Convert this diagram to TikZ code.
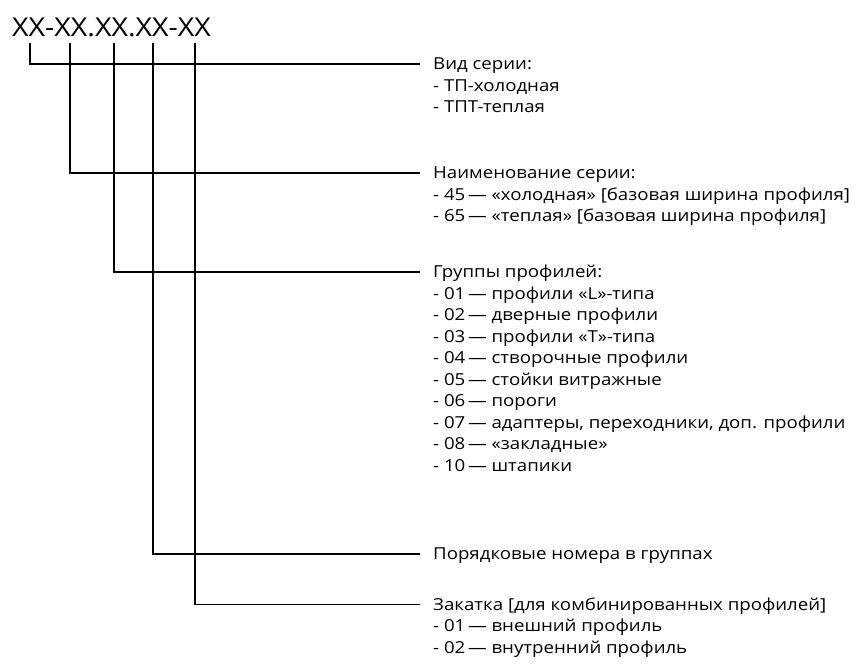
\documentclass[tikz,border=0pt]{standalone}
\usepackage{fontspec}
\setmainfont{Open Sans}
\newfontfamily\labelfont[FakeStretch=1.13]{Open Sans}
\newfontfamily\codefont[FakeStretch=1.1]{Open Sans}
\usetikzlibrary{positioning}

\begin{document}
\begin{tikzpicture}[x=1pt,y=-1pt,
  code/.style={font=\codefont\fontsize{26}{30}\selectfont,inner sep=0pt,anchor=base west},
  title/.style={font=\labelfont\fontsize{16.5}{21.5}\selectfont,inner sep=0pt,anchor=base west},
  lead/.style={line width=1.6pt}]
\useasboundingbox (0,0) rectangle (867,664);
\node[code] (code) at (12,36) {XX-XX.XX.XX-XX};
% one tick under each pair of X
\coordinate (t1) at (30,43);
\coordinate (t2) at (70,43);
\coordinate (t3) at (114,43);
\coordinate (t4) at (153,43);
\coordinate (t5) at (195,43);
% titles
\node[title] (vid) at (433,69.5) {Вид серии:};
\node[title] (name) at (433,178.5) {Наименование серии:};
\node[title] (group) at (433,277.5) {Группы профилей:};
\node[title] (num) at (433,559.5) {Порядковые номера в группах};
\node[title] (roll) at (433,610) {Закатка [для комбинированных профилей]};
% items under the titles
\foreach \t [count=\i] in {- ТП-холодная, - ТПТ-теплая}
  \node[title] (vid\i) at ([yshift=-21.5*\i pt]vid.base west) {\t};
\foreach \t [count=\i] in {- 45\,— «холодная» [базовая ширина профиля],
  - 65\,— «теплая» [базовая ширина профиля]}
  \node[title] (name\i) at ([yshift=-21.5*\i pt]name.base west) {\t};
\foreach \t [count=\i] in {- 01\,— профили «L»-типа, - 02\,— дверные профили,
  - 03\,— профили «Т»-типа, - 04\,— створочные профили, - 05\,— стойки витражные,
  - 06\,— пороги, {- 07\,— адаптеры, переходники, доп. профили},
  - 08\,— «закладные», - 10\,— штапики}
  \node[title] (group\i) at ([yshift=-21.5*\i pt]group.base west) {\t};
\foreach \t [count=\i] in {- 01\,— внешний профиль, - 02\,— внутренний профиль}
  \node[title] (roll\i) at ([yshift=-21.5*\i pt]roll.base west) {\t};
% leader ends
\coordinate (e1) at ([xshift=-13pt,yshift=5.5pt]vid.base west);
\coordinate (e2) at ([xshift=-13pt,yshift=5.5pt]name.base west);
\coordinate (e3) at ([xshift=-13pt,yshift=5.5pt]group.base west);
\coordinate (e4) at ([xshift=-13pt,yshift=5.5pt]num.base west);
\coordinate (e5) at ([xshift=-13pt,yshift=5.5pt]roll.base west);
\draw[lead] (t1) |- (e1)
  (t2) |- (e2)
  (t3) |- (e3)
  (t4) |- (e4)
  (t5) |- (e5);
\end{tikzpicture}
\end{document}
